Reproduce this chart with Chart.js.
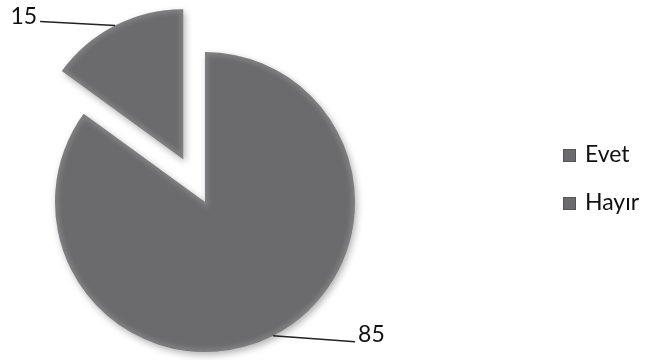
<!DOCTYPE html>
<html>
<head>
<meta charset="utf-8">
<script src="https://cdn.jsdelivr.net/npm/chart.js@4.4.0/dist/chart.umd.min.js"></script>
<style>
 html, body { margin: 0; padding: 0; background: #fff; }
 #wrap { position: relative; width: 645px; height: 360px; }
</style>
</head>
<body>
<div id="wrap"><canvas id="pieChart"></canvas></div>
<script>
var labels = ['Evet', 'Hayır'];
var values = [85, 15];
var explode = [0, 48];          // px the slice is pulled out
var sliceColor = '#6b6b6d';
// end of each leader line, relative to the middle of the slice rim
var leaderEnds = [[82, 6], [-75, -4]];
var fontFamily = 'Lato, "Open Sans", sans-serif';

// pull exploded slices out along their middle angle
var explodePlugin = {
  id: 'explode',
  afterDatasetUpdate: function (chart, args) {
    chart.getDatasetMeta(args.index).data.forEach(function (arc, i) {
      if (!explode[i]) return;
      var mid = (arc.startAngle + arc.endAngle) / 2;
      arc.x += Math.cos(mid) * explode[i];
      arc.y += Math.sin(mid) * explode[i];
    });
  }
};

var shadowPlugin = {
  id: 'sliceShadow',
  beforeDatasetsDraw: function (chart) {
    var ctx = chart.ctx;
    ctx.save();
    ctx.shadowColor = 'rgba(0,0,0,0.3)';
    ctx.shadowBlur = 7;
    ctx.shadowOffsetX = 2;
    ctx.shadowOffsetY = 3;
  },
  afterDatasetsDraw: function (chart) {
    var ctx = chart.ctx;
    ctx.restore();
    // soft light rim inside every slice
    chart.getDatasetMeta(0).data.forEach(function (arc) {
      ctx.save();
      ctx.beginPath();
      ctx.moveTo(arc.x, arc.y);
      ctx.arc(arc.x, arc.y, arc.outerRadius, arc.startAngle, arc.endAngle);
      ctx.closePath();
      ctx.clip();
      ctx.filter = 'blur(2px)';
      ctx.lineWidth = 7;
      ctx.strokeStyle = 'rgba(255,255,255,0.14)';
      ctx.stroke();
      ctx.restore();
    });
  }
};

var labelPlugin = {
  id: 'leaderLabels',
  afterDraw: function (chart) {
    var ctx = chart.ctx;
    var arcs = chart.getDatasetMeta(0).data;
    ctx.save();
    ctx.font = '23px ' + fontFamily;
    ctx.fillStyle = '#111';
    ctx.textBaseline = 'middle';
    arcs.forEach(function (arc, i) {
      var mid = (arc.startAngle + arc.endAngle) / 2;
      var px = arc.x + Math.cos(mid) * arc.outerRadius;
      var py = arc.y + Math.sin(mid) * arc.outerRadius;
      var ex = px + leaderEnds[i][0];
      var ey = py + leaderEnds[i][1];
      ctx.beginPath();
      ctx.moveTo(px, py);
      ctx.lineTo(ex, ey);
      ctx.lineWidth = 1.5;
      ctx.strokeStyle = '#222';
      ctx.stroke();
      if (leaderEnds[i][0] < 0) {
        ctx.textAlign = 'right';
        ctx.fillText(values[i], ex - 3, ey - 5);
      } else {
        ctx.textAlign = 'left';
        ctx.fillText(values[i], ex + 3, ey - 7);
      }
    });

    // legend
    ctx.textAlign = 'left';
    labels.forEach(function (lab, i) {
      var y = 155 + i * 48;
      ctx.fillStyle = sliceColor;
      ctx.fillRect(563, y - 6, 13, 13);
      ctx.strokeStyle = '#555557';
      ctx.lineWidth = 1;
      ctx.strokeRect(563.5, y - 5.5, 12, 12);
      ctx.fillStyle = '#111';
      ctx.fillText(lab, 585, y);
    });
    ctx.restore();
  }
};

new Chart('pieChart', {
  type: 'pie',
  data: {
    labels: labels,
    datasets: [{
      data: values,
      backgroundColor: sliceColor,
      borderWidth: 0,
      clip: false
    }]
  },
  options: {
    responsive: true,
    maintainAspectRatio: false,
    animation: false,
    radius: 150,
    layout: { padding: { left: 0, right: 235, top: 52, bottom: 8 } },
    plugins: {
      legend: { display: false },
      tooltip: { enabled: false }
    }
  },
  plugins: [explodePlugin, shadowPlugin, labelPlugin]
});
</script>
</body>
</html>
